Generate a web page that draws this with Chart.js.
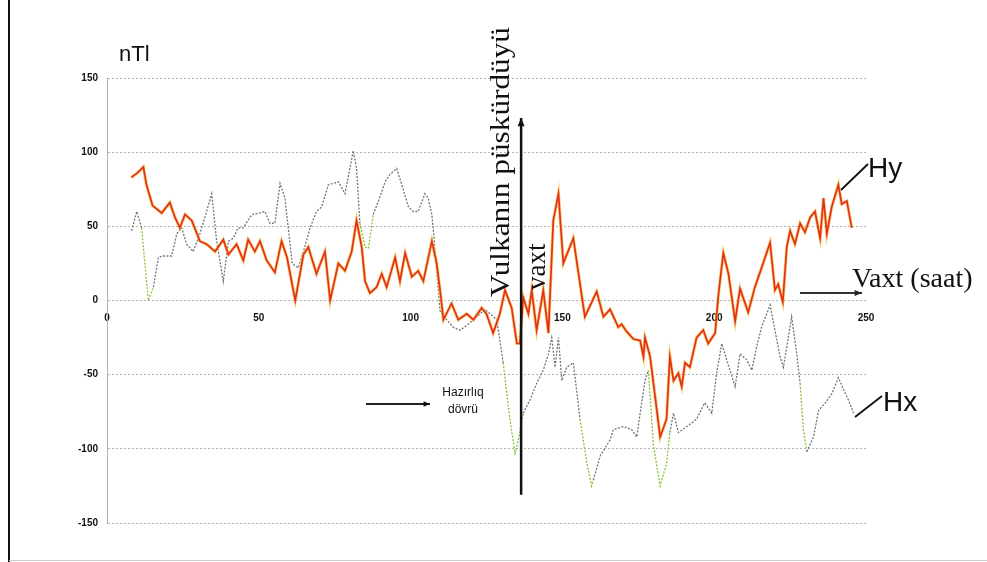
<!DOCTYPE html>
<html>
<head>
<meta charset="utf-8">
<script src="https://cdn.jsdelivr.net/npm/chart.js@4/dist/chart.umd.min.js"></script>
<style>
  html, body { margin: 0; padding: 0; background: #fff; }
  #wrap { width: 987px; height: 562px; position: relative; }
</style>
</head>
<body>
<div id="wrap"><canvas id="chart" width="987" height="562"></canvas></div>
<script>
// Hy (red) - hours and nT values
const hyHours = [8, 10, 12, 13, 15, 18, 20.7, 22.4, 24, 25.7, 27.9, 30.6, 32.8, 35.6, 38.3, 40, 42.7, 44.9, 46.5, 48.7,
    50.4, 52.6, 55.3, 57.5, 59.3, 62, 64.7, 66.3, 69, 71.8, 73.5, 76.2, 78.4, 80.6, 82.2, 83.9, 85, 86.6, 88.8, 90.5,
    92.1, 94.9, 96.5, 98.2, 100.4, 102.5, 104.2, 107, 108.6, 110, 110.8, 113.5, 115.7, 118.5, 120.7, 123.4, 125, 127.2, 129.4, 131.1,
    133.3, 135, 136, 137.1, 138.8, 139.9, 141.5, 143.7, 145.4, 147, 148.7, 150.3, 153.6, 157.4, 161.3, 163.5, 165.7, 168.4, 169.5, 171.2,
    173.4, 175.6, 176.7, 177.2, 178.9, 182.2, 184.3, 185.4, 186.6, 188.2, 189.3, 190.4, 192, 194.2, 196.4, 198, 200.3, 201.4, 203, 204.7,
    206.9, 208.5, 211.2, 213.4, 215.6, 218.4, 220, 221.1, 222.6, 223.9, 225, 226.6, 228.3, 229.9, 231.6, 233.2, 234.9, 236, 237.1, 238.7,
    240.9, 242, 243.7, 245.3];
const hyValues = [83, 86, 90, 78, 64, 59, 66, 56, 49, 58, 54, 40, 38, 33, 41, 31, 38, 27, 41, 33,
    40, 27, 19, 40, 29, 0, 31, 36, 18, 33, 0, 25, 20, 33, 54, 36, 13, 5, 9, 18,
    9, 29, 13, 32, 16, 20, 13, 40, 25, 2, -13, -2, -13, -9, -13, -5, -9, -22, -9, 7,
    -5, -29, -29, 2, -9, 7, -20, 7, -22, 54, 72, 25, 42, -11, 6, -11, -6, -18, -16, -21,
    -26, -27, -38, -25, -38, -92, -80, -38, -54, -49, -58, -42, -45, -25, -20, -29, -22, 4, 32, 18,
    -14, 8, -8, 9, 22, 39, 7, 11, -1, 36, 47, 38, 52, 46, 56, 60, 42, 69, 45, 63,
    78, 65, 67, 49];

// Hx (grey) - hours and nT values
const hxHours = [8.1, 9.8, 11.4, 13.6, 15.3, 16.9, 18.5, 21.3, 23, 24.6, 26.2, 28.4, 30.6, 32.8, 34.5, 36.1, 38.3, 40, 41.6, 43.2,
    44.9, 47.7, 50.4, 52, 53.7, 55.3, 57, 58.6, 61, 63, 64.7, 66.9, 69, 70.7, 72.9, 74.6, 76.2, 78.4, 80, 81.1,
    82.2, 83.3, 85, 86.1, 87.7, 89.4, 91.6, 93.2, 95.4, 97.1, 99.3, 100.9, 102.5, 104.7, 105.8, 107, 107.5, 109.7, 111.9, 114,
    116.3, 119, 121.8, 124.5, 128.4, 130.5, 132.7, 134.4, 135.5, 137.1, 139.3, 141.5, 143.7, 145.4, 146.5, 147.6, 148.7, 149.8, 151.4, 153.6,
    155.8, 158, 159.6, 160.2, 162.4, 165.7, 166.8, 170.1, 172.8, 174.5, 175.6, 177.2, 178.3, 180, 182.2, 184.3, 185.4, 186.6, 188.2, 191,
    194.2, 196.9, 199.2, 200.8, 202.5, 204.1, 206.9, 208.5, 210.7, 212.4, 214, 215.6, 218.4, 220, 221.7, 222.8, 224.4, 225.5, 227.2, 228.3,
    229.4, 230.5, 232.7, 234.4, 236.6, 238.7, 240.9, 242.6, 244.2, 245.9];
const hxValues = [47, 60, 49, 0, 9, 29, 30, 30, 45, 49, 38, 33, 45, 60, 72, 40, 13, 40, 42, 49,
    49, 58, 59, 60, 52, 52, 79, 69, 25, 22, 33, 49, 60, 63, 78, 79, 80, 72, 89, 101,
    89, 52, 36, 35, 58, 67, 80, 85, 89, 78, 63, 60, 60, 72, 69, 58, 47, -7, -13, -18,
    -20, -16, -11, -6, -13, -42, -80, -103, -94, -76, -67, -56, -47, -36, -25, -45, -25, -54, -45, -42,
    -80, -109, -125, -121, -105, -94, -87, -85, -87, -92, -76, -54, -47, -98, -125, -110, -89, -76, -89, -85,
    -80, -69, -76, -49, -29, -40, -58, -36, -40, -47, -31, -18, -3, -20, -38, -45, -25, -11, -36, -56,
    -87, -102, -92, -74, -69, -63, -52, -60, -67, -76];

const yTicks = [-150, -100, -50, 0, 50, 100, 150];
const xTicks = [0, 50, 100, 150, 200, 250];
const eruptionHour = 136.4;

// green stretches on the Hx trace (hours)
const hxGreen = [[12.5, 16], [83, 87], [131, 137], [156, 161], [179, 185], [228.5, 231.5]];

const toPoints = (hs, vs) => hs.map((h, i) => ({ x: h, y: vs[i] }));

function inGreen(a, b) {
    const m = (a + b) / 2;
    return hxGreen.some(r => m >= r[0] && m <= r[1]);
}

function arrow(ctx, x1, y1, x2, y2, head) {
    ctx.beginPath();
    ctx.moveTo(x1, y1);
    ctx.lineTo(x2, y2);
    ctx.stroke();
    const ang = Math.atan2(y2 - y1, x2 - x1);
    ctx.beginPath();
    ctx.moveTo(x2, y2);
    ctx.lineTo(x2 - head * Math.cos(ang - 0.4), y2 - head * Math.sin(ang - 0.4));
    ctx.lineTo(x2 - head * Math.cos(ang + 0.4), y2 - head * Math.sin(ang + 0.4));
    ctx.closePath();
    ctx.fill();
}

const paper = {
    id: 'paper',
    beforeDraw(chart) {
        const ctx = chart.ctx;
        ctx.save();
        ctx.fillStyle = '#fff';
        ctx.fillRect(0, 0, chart.width, chart.height);
        ctx.strokeStyle = '#111';
        ctx.lineWidth = 2;
        ctx.beginPath();
        ctx.moveTo(9, 0);
        ctx.lineTo(9, chart.height);
        ctx.stroke();
        ctx.strokeStyle = '#ccc';
        ctx.lineWidth = 1;
        ctx.beginPath();
        ctx.moveTo(9, 560.5);
        ctx.lineTo(chart.width, 560.5);
        ctx.stroke();
        ctx.restore();
    },
    afterDraw(chart) {
        const ctx = chart.ctx;
        const xs = chart.scales.x, ys = chart.scales.y;
        ctx.save();
        ctx.fillStyle = '#111';
        ctx.strokeStyle = '#111';

        // unit label
        ctx.font = '22px "Liberation Sans", Arial, sans-serif';
        ctx.textAlign = 'left';
        ctx.textBaseline = 'alphabetic';
        ctx.fillText('nTl', 119, 61);

        // eruption arrow
        const ex = xs.getPixelForValue(eruptionHour);
        ctx.lineWidth = 2.5;
        arrow(ctx, ex, ys.getPixelForValue(-131), ex, ys.getPixelForValue(123), 9);

        // rotated labels
        ctx.font = '27px "Liberation Serif", "Times New Roman", serif';
        const txt = 'Vulkanın püskürdüyü';
        const w = ctx.measureText(txt).width;
        ctx.save();
        ctx.translate(ex - 12, 297);
        ctx.rotate(-Math.PI / 2);
        ctx.scale(270 / w, 1);
        ctx.fillText(txt, 0, 0);
        ctx.restore();
        ctx.save();
        ctx.translate(ex + 24, 290);
        ctx.rotate(-Math.PI / 2);
        ctx.fillText('vaxt', 0, 0);
        ctx.restore();

        // series labels
        ctx.font = '28px "Liberation Sans", Arial, sans-serif';
        ctx.fillText('Hy', 868, 177);
        ctx.fillText('Hx', 883, 411);
        ctx.lineWidth = 1.8;
        ctx.beginPath();
        ctx.moveTo(841, 190); ctx.lineTo(868, 164);
        ctx.moveTo(855, 417); ctx.lineTo(882, 396);
        ctx.stroke();

        // time axis label + arrow
        ctx.font = '28px "Liberation Serif", "Times New Roman", serif';
        ctx.fillText('Vaxt (saat)', 852, 287);
        ctx.strokeStyle = '#333';
        ctx.fillStyle = '#222';
        ctx.lineWidth = 2;
        arrow(ctx, 800, 293, 862, 293, 8);

        // preparation period
        ctx.fillStyle = '#111';
        ctx.font = '12px "Liberation Sans", Arial, sans-serif';
        ctx.textAlign = 'center';
        ctx.fillText('Hazırlıq', 463, 396);
        ctx.fillText('dövrü', 463, 413);
        ctx.strokeStyle = '#222';
        ctx.lineWidth = 1.8;
        arrow(ctx, 366, 404, 430, 404, 7);

        ctx.restore();
    }
};

new Chart(document.getElementById('chart'), {
    type: 'line',
    data: {
        datasets: [
            {
                label: 'Hy',
                data: toPoints(hyHours, hyValues),
                borderColor: '#e3301a',
                borderWidth: 1.7,
                pointRadius: 0,
                tension: 0,
                order: 0
            },
            {
                label: 'Hy halo',
                data: toPoints(hyHours, hyValues),
                borderColor: 'rgba(245, 185, 55, 0.7)',
                borderWidth: 3.2,
                pointRadius: 0,
                tension: 0,
                order: 1
            },
            {
                label: 'Hx',
                data: toPoints(hxHours, hxValues),
                borderColor: '#6e7676',
                borderWidth: 1.3,
                borderDash: [2, 1.5],
                pointRadius: 0,
                tension: 0,
                order: 2,
                segment: {
                    borderColor: c => inGreen(c.p0.parsed.x, c.p1.parsed.x) ? '#86c233' : '#6e7676'
                }
            }
        ]
    },
    options: {
        responsive: false,
        animation: false,
        parsing: false,
        layout: { padding: { left: 0, right: 121, top: 78, bottom: 39 } },
        plugins: { legend: { display: false }, tooltip: { enabled: false } },
        scales: {
            x: {
                type: 'linear',
                position: { y: 0 },
                min: 0,
                max: 250,
                afterBuildTicks: s => { s.ticks = xTicks.map(v => ({ value: v })); },
                ticks: {
                    color: '#111',
                    padding: 12,
                    maxRotation: 0,
                    font: { family: '"Liberation Sans", Arial, sans-serif', size: 10, weight: 'bold' }
                },
                grid: { display: false, drawTicks: false },
                border: { display: false }
            },
            y: {
                type: 'linear',
                min: -150,
                max: 150,
                afterFit: s => { s.width = 107; },
                afterBuildTicks: s => { s.ticks = yTicks.map(v => ({ value: v })); },
                ticks: {
                    color: '#111',
                    padding: 9,
                    font: { family: '"Liberation Sans", Arial, sans-serif', size: 10, weight: 'bold' }
                },
                grid: { color: '#b4b4b4', lineWidth: 1, drawTicks: false },
                border: { display: true, color: '#b4b4b4', dash: [2, 2] }
            }
        }
    },
    plugins: [paper]
});
</script>
</body>
</html>
